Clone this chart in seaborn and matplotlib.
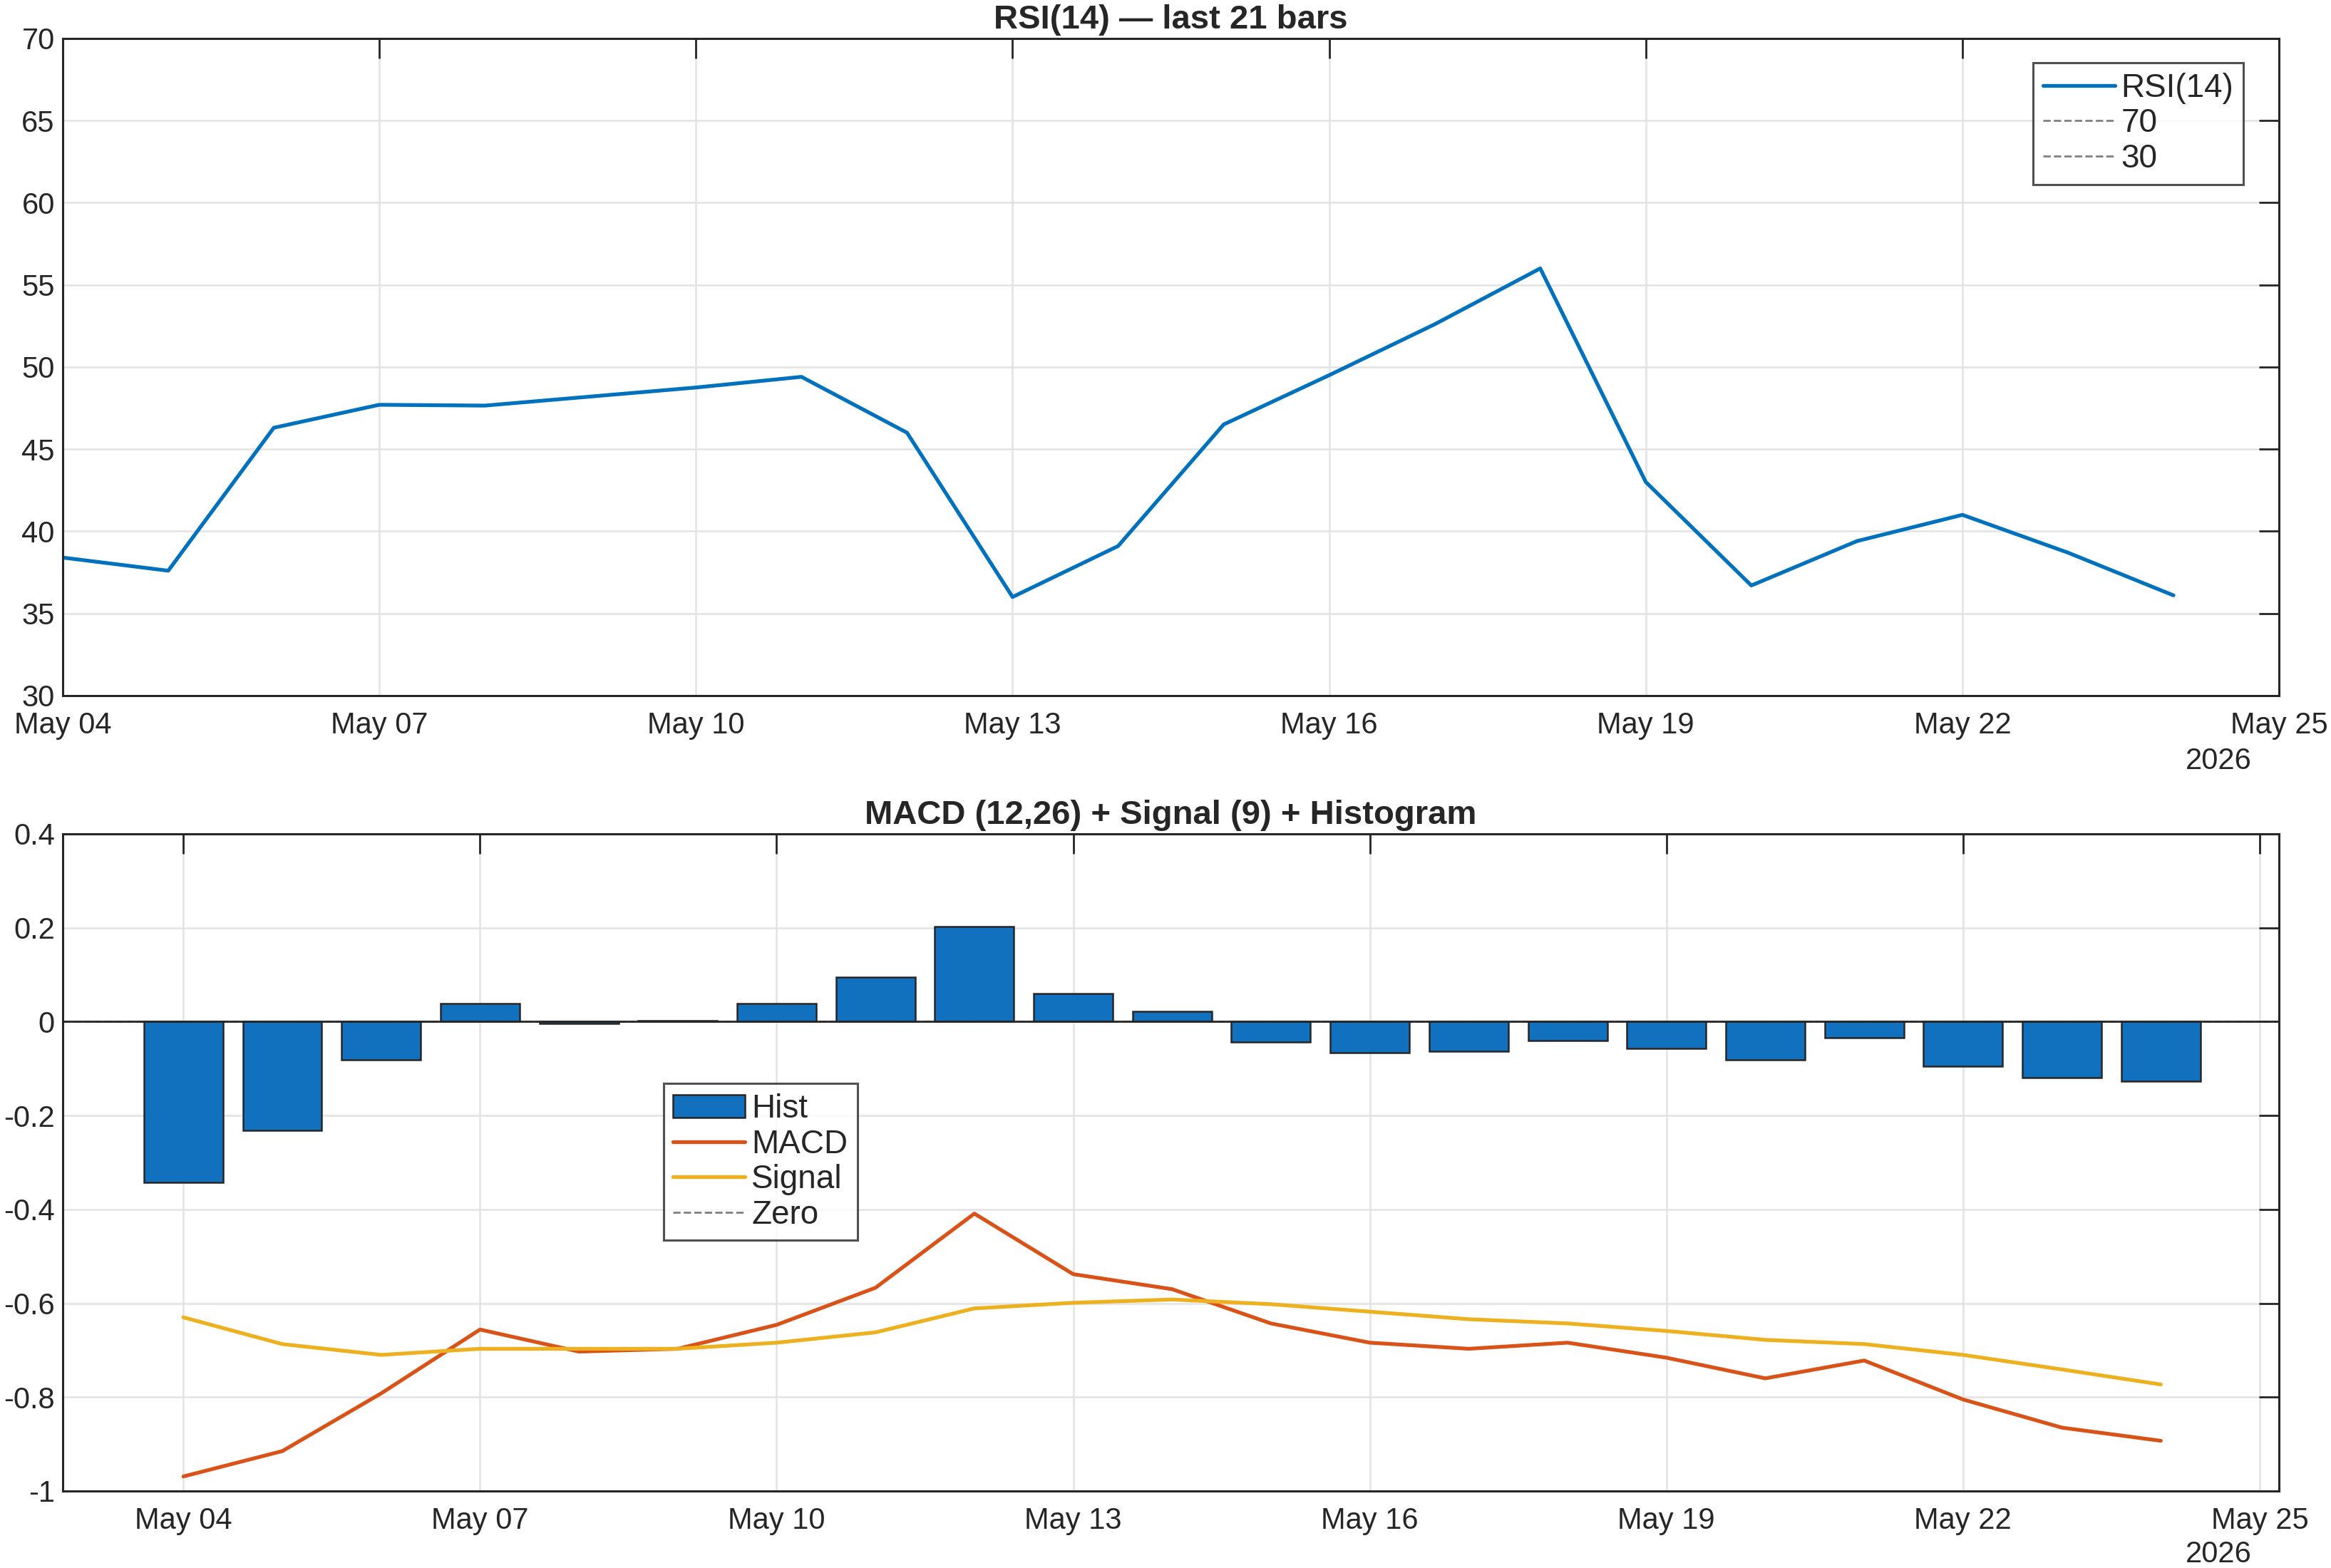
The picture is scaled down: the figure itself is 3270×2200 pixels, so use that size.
import pandas as pd
import numpy as np
import matplotlib
matplotlib.use("Agg")
import matplotlib.pyplot as plt
import matplotlib.dates as mdates
import seaborn as sns

# Data (21 daily bars)
dates = pd.date_range("2026-05-04", "2026-05-24", freq="D")
rsi = [38.4, 37.6, 46.3, 47.7, 47.65, 48.2, 48.75, 49.4, 46.0, 36.0, 39.1,
       46.5, 49.5, 52.6, 56.0, 43.0, 36.7, 39.4, 41.0, 38.7, 36.1]
macd = [-0.969, -0.915, -0.792, -0.656, -0.703, -0.697, -0.646, -0.567, -0.409, -0.538, -0.570,
        -0.643, -0.684, -0.697, -0.684, -0.716, -0.760, -0.722, -0.805, -0.865, -0.893]
signal = [-0.630, -0.687, -0.710, -0.697, -0.697, -0.697, -0.684, -0.662, -0.611, -0.599, -0.592,
          -0.602, -0.618, -0.634, -0.643, -0.659, -0.678, -0.687, -0.710, -0.741, -0.773]
hist = [-0.342, -0.231, -0.082, 0.038, -0.004, 0.002, 0.038, 0.095, 0.203, 0.060, 0.022,
        -0.044, -0.066, -0.063, -0.041, -0.057, -0.082, -0.035, -0.095, -0.120, -0.127]

df = pd.DataFrame({"date": dates, "rsi": rsi, "macd": macd, "signal": signal, "hist": hist})

BLUE = "#0072BD"
ORANGE = "#D95319"
YELLOW = "#EDB120"
DARK = "#262626"

sns.set_style("white")
plt.rcParams["font.family"] = ["Liberation Sans", "DejaVu Sans"]
plt.rcParams["axes.unicode_minus"] = False

fig = plt.figure(figsize=(16.35, 11), dpi=200)
ax1 = fig.add_axes([0.0269, 0.5564, 0.9508, 0.4191])
ax2 = fig.add_axes([0.0269, 0.0491, 0.9508, 0.4191])

ticks = pd.date_range("2026-05-04", "2026-05-25", freq="3D")


def style_axes(ax):
    ax.grid(True, color="#e3e3e3", linewidth=0.9)
    ax.set_axisbelow(True)
    for s in ax.spines.values():
        s.set_color(DARK)
        s.set_linewidth(1.1)
    ax.tick_params(direction="in", length=10, width=1.0, color=DARK, top=True, right=True,
                   labelsize=15, labelcolor=DARK)
    ax.tick_params(axis="x", pad=8)
    ax.tick_params(axis="y", pad=4)
    ax.set_xticks(ticks)
    ax.xaxis.set_major_formatter(mdates.DateFormatter("%b %d"))
    ax.set_xlabel("")
    ax.set_ylabel("")


leg_kw = dict(fontsize=16.5, frameon=True, fancybox=False, edgecolor=DARK, handlelength=2.2,
              labelspacing=0.12, borderpad=0.3, handletextpad=0.2, borderaxespad=0)

# RSI panel
sns.lineplot(data=df, x="date", y="rsi", ax=ax1, color=BLUE, linewidth=1.9, label="RSI(14)")
ax1.axhline(70, color="gray", linestyle="--", linewidth=1.0, label="70")
ax1.axhline(30, color="gray", linestyle="--", linewidth=1.0, label="30")
ax1.set_xlim(pd.Timestamp("2026-05-04"), pd.Timestamp("2026-05-25"))
ax1.set_ylim(30, 70)
ax1.set_yticks(np.arange(30, 71, 5))
style_axes(ax1)
ax1.set_title("RSI(14) \u2014 last 21 bars", fontweight="bold", fontsize=17, color=DARK, pad=5)
leg1 = ax1.legend(loc="upper right", bbox_to_anchor=(0.984, 0.963), **leg_kw)
leg1.get_frame().set_linewidth(1.1)

# MACD panel
ax2.axhline(0, color="gray", linestyle="--", linewidth=1.0, label="Zero", zorder=1)
ax2.bar(df["date"], df["hist"], width=0.8, color="#1171BE", edgecolor=DARK, linewidth=0.9,
        label="Hist", zorder=2)
ax2.axhline(0, color=DARK, linewidth=1.0, zorder=2.5)
sns.lineplot(data=df, x="date", y="macd", ax=ax2, color=ORANGE, linewidth=1.9, label="MACD", zorder=3)
sns.lineplot(data=df, x="date", y="signal", ax=ax2, color=YELLOW, linewidth=1.9, label="Signal", zorder=3)
ax2.set_xlim(pd.Timestamp("2026-05-04") - pd.Timedelta(hours=29.3),
             pd.Timestamp("2026-05-25") + pd.Timedelta(hours=4.7))
ax2.set_ylim(-1, 0.4)
ax2.set_yticks(np.arange(-1, 0.41, 0.2))
ax2.yaxis.set_major_formatter(plt.FuncFormatter(lambda v, p: f"{v:g}" if abs(v) > 1e-9 else "0"))
style_axes(ax2)
ax2.set_title("MACD (12,26) + Signal (9) + Histogram", fontweight="bold", fontsize=17, color=DARK, pad=5)
h, l = ax2.get_legend_handles_labels()
order = [l.index(n) for n in ["Hist", "MACD", "Signal", "Zero"]]
leg2 = ax2.legend([h[i] for i in order], [l[i] for i in order], loc="upper left",
                  bbox_to_anchor=(0.271, 0.620), **leg_kw)
leg2.get_frame().set_linewidth(1.1)

# secondary year labels under the last tick (MATLAB style)
fig.text(3112 / 3270, 1 - 1068 / 2200, "2026", ha="center", va="center", fontsize=15, color=DARK)
fig.text(3112 / 3270, 1 - 2181 / 2200, "2026", ha="center", va="center", fontsize=15, color=DARK)

fig.savefig("out.png", dpi=200)
